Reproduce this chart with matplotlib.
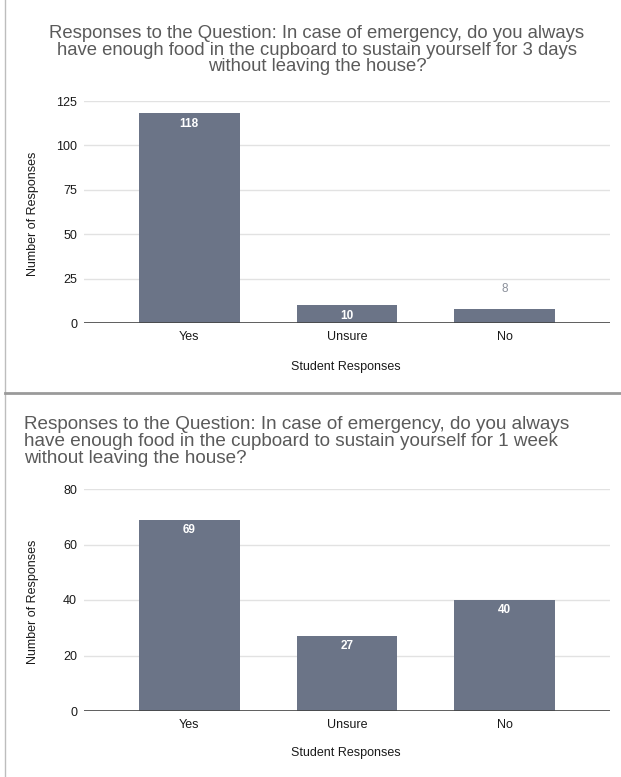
import matplotlib
matplotlib.use("Agg")
import matplotlib.pyplot as plt
from matplotlib.lines import Line2D

plt.rcParams['font.family'] = ['Liberation Sans', 'DejaVu Sans']

categories = ["Yes", "Unsure", "No"]
values_3days = [118, 10, 8]
values_1week = [69, 27, 40]
yticks_3days = [0, 25, 50, 75, 100, 125]
yticks_1week = [0, 20, 40, 60, 80]
title_3days = ("Responses to the Question: In case of emergency, do you always\n"
               "have enough food in the cupboard to sustain yourself for 3 days\n"
               "without leaving the house?")
title_1week = ("Responses to the Question: In case of emergency, do you always\n"
               "have enough food in the cupboard to sustain yourself for 1 week\n"
               "without leaving the house?")
xlabel = "Student Responses"
ylabel = "Number of Responses"

W, H = 621, 777
fig = plt.figure(figsize=(W / 100, H / 100), dpi=100)
fig.patch.set_facecolor("white")

BAR = "#6b7487"
GRID = "#e2e2e2"


def fx(px):
    return px / W


def fy(py):
    return 1 - py / H


def panel(top_px, bottom_px, values, yticks):
    ax = fig.add_axes([fx(84), fy(bottom_px), fx(610) - fx(84), fy(top_px) - fy(bottom_px)])
    x = list(range(len(categories)))
    bars = ax.bar(x, values, width=0.64, color=BAR, zorder=3)
    ax.set_xlim(-0.667, len(categories) - 0.333)
    ax.set_ylim(0, yticks[-1])
    ax.set_yticks(yticks)
    ax.set_xticks(x)
    ax.set_xticklabels(categories)
    for s in ax.spines.values():
        s.set_visible(False)
    ax.grid(axis="y", color=GRID, lw=1, zorder=0)
    ax.axhline(0, color="#444444", lw=1.2, zorder=4)
    ax.tick_params(axis="both", length=0, labelsize=9, colors="#1a1a1a")
    ax.tick_params(axis="y", pad=5)
    ax.tick_params(axis="x", pad=6)
    ppu = (bottom_px - top_px) / yticks[-1]
    for b, v in zip(bars, values):
        h_px = v * ppu
        cx = b.get_x() + b.get_width() / 2
        if h_px > 15:
            ax.annotate(str(v), (cx, v), xytext=(0, -7.5), textcoords="offset points",
                        ha="center", va="center", color="white", fontsize=8.5,
                        fontweight="bold", zorder=5)
        else:
            ax.annotate(str(v), (cx, v), xytext=(0, 14.5), textcoords="offset points",
                        ha="center", va="center", color="#8b909b", fontsize=8.5,
                        zorder=5)
    return ax


panel(101, 323, values_3days, yticks_3days)
panel(489, 711, values_1week, yticks_1week)

# titles
fig.text(fx(317), fy(25), title_3days, ha="center", va="top", fontsize=13.3,
         color="#5a5a5a", linespacing=0.97)
fig.text(fx(24), fy(416), title_1week, ha="left", va="top", fontsize=13.6,
         color="#5a5a5a", linespacing=1.0)

# axis labels
for yc in (214, 602):
    fig.text(fx(33), fy(yc), ylabel, rotation=90, ha="center", va="center",
             fontsize=9, color="#1a1a1a")
for yc in (367, 753):
    fig.text(fx(346), fy(yc), xlabel, ha="center", va="center",
             fontsize=9, color="#1a1a1a")

# borders
fig.add_artist(Line2D([fx(5), fx(5)], [0, 1], color="#bdbdbd", lw=1))
fig.add_artist(Line2D([fx(5), 1], [fy(393.5), fy(393.5)], color="#9a9a9a", lw=2))

fig.savefig("out.png", dpi=100, facecolor="white")
